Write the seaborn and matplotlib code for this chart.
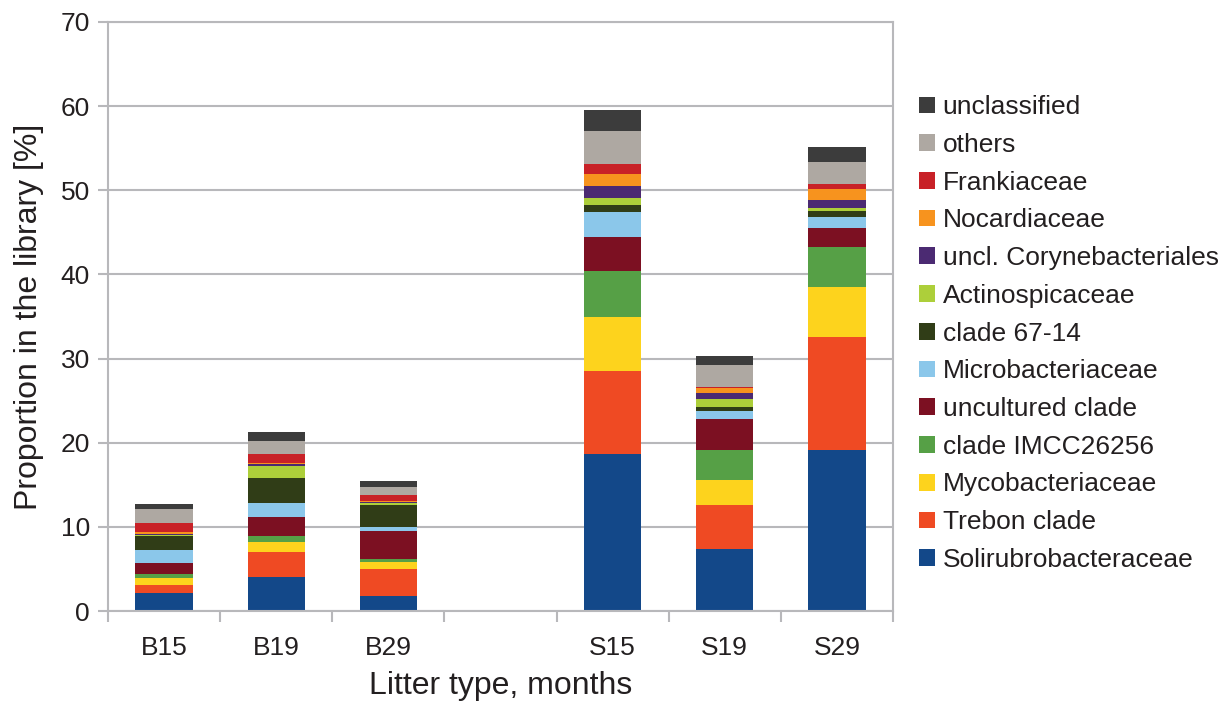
import numpy as np
import pandas as pd
import matplotlib
matplotlib.use("Agg")
import matplotlib.pyplot as plt
from matplotlib.patches import Patch
import seaborn as sns

categories = ["B15", "B19", "B29", "", "S15", "S19", "S29"]
samples = ["B15", "B19", "B29", "S15", "S19", "S29"]

series_names = [
    "Solirubrobacteraceae", "Trebon clade", "Mycobacteriaceae", "clade IMCC26256",
    "uncultured clade", "Microbacteriaceae", "clade 67-14", "Actinospicaceae",
    "uncl. Corynebacteriales", "Nocardiaceae", "Frankiaceae", "others", "unclassified",
]

solirubrobacteraceae = [2.10, 4.04, 1.78, 18.70, 7.33, 19.14]
trebon_clade = [0.95, 2.97, 3.21, 9.80, 5.23, 13.44]
mycobacteriaceae = [0.83, 1.19, 0.83, 6.46, 2.97, 5.95]
clade_imcc26256 = [0.48, 0.71, 0.36, 5.47, 3.57, 4.76]
uncultured_clade = [1.31, 2.26, 3.33, 4.04, 3.69, 2.26]
microbacteriaceae = [1.55, 1.66, 0.48, 2.97, 0.95, 1.31]
clade_67_14 = [1.70, 2.97, 2.62, 0.83, 0.48, 0.71]
actinospicaceae = [0.16, 1.47, 0.28, 0.83, 0.95, 0.36]
uncl_corynebacteriales = [0.08, 0.20, 0.12, 1.43, 0.71, 0.95]
nocardiaceae = [0.20, 0.08, 0.08, 1.43, 0.63, 1.31]
frankiaceae = [1.07, 1.07, 0.71, 1.19, 0.08, 0.59]
others = [1.66, 1.55, 0.95, 3.92, 2.62, 2.62]
unclassified = [0.59, 1.07, 0.71, 2.50, 1.07, 1.78]

series_values = [
    solirubrobacteraceae, trebon_clade, mycobacteriaceae, clade_imcc26256,
    uncultured_clade, microbacteriaceae, clade_67_14, actinospicaceae,
    uncl_corynebacteriales, nocardiaceae, frankiaceae, others, unclassified,
]

colors = [
    "#134889", "#ef4a23", "#fdd31d", "#56a046", "#7c1022", "#8bc7ea", "#303d17",
    "#adcf3a", "#4b2a72", "#f7931e", "#c82127", "#aea8a2", "#3c3c3c",
]

text_color = "#231f20"
grid_color = "#b8b8bb"

sns.set_theme(style="white")
plt.rcParams["font.family"] = ["Liberation Sans", "DejaVu Sans"]
plt.rcParams["text.color"] = text_color

df = pd.DataFrame({name: vals for name, vals in zip(series_names, series_values)}, index=samples)
cum = df.cumsum(axis=1)

fig = plt.figure(figsize=(12.3, 7.04), dpi=100)
ax = fig.add_axes([0.0878, 0.132, 0.6382, 0.837])

# draw from top of stack down so lower segments overlay
for name, col in reversed(list(zip(series_names, colors))):
    d = pd.DataFrame({"sample": samples, "value": cum[name].values})
    sns.barplot(data=d, x="sample", y="value", order=categories, color=col,
                saturation=1, width=0.51, linewidth=0, ax=ax, errorbar=None)

ax.set_xlim(-0.5, 6.5)
ax.set_ylim(0, 70)
ax.set_yticks(np.arange(0, 71, 10))
ax.yaxis.grid(True, color=grid_color, linewidth=1.5)
ax.set_axisbelow(True)
for side in ["left", "right", "bottom", "top"]:
    ax.spines[side].set_visible(True)
    ax.spines[side].set_color(grid_color)
    ax.spines[side].set_linewidth(1.5)

ax.set_xticks(np.arange(7))
ax.set_xticklabels(categories)
ax.set_xticks(np.arange(-0.5, 7, 1), minor=True)
ax.tick_params(axis="x", which="major", length=0, pad=18, labelsize=19, labelcolor=text_color)
ax.tick_params(axis="x", which="minor", length=8, width=1.5, color=grid_color, direction="out", bottom=True)
ax.tick_params(axis="y", which="major", length=7, width=1.5, color=grid_color, pad=6,
               labelsize=19, labelcolor=text_color, left=True)

ax.set_xlabel("Litter type, months", fontsize=23, color=text_color, labelpad=8)
ax.set_ylabel("Proportion in the library [%]", fontsize=23, color=text_color, labelpad=12)

handles = [Patch(facecolor=c, edgecolor="none", label=n) for n, c in zip(series_names, colors)][::-1]
leg = fig.legend(handles=handles, loc="upper left", bbox_to_anchor=(0.7385, 0.8797),
                 frameon=False, fontsize=19, handlelength=0.6, handleheight=0.6,
                 handletextpad=0.3, labelspacing=0.52, borderaxespad=0)
for t in leg.get_texts():
    t.set_color(text_color)

fig.savefig("out.png", dpi=100)
